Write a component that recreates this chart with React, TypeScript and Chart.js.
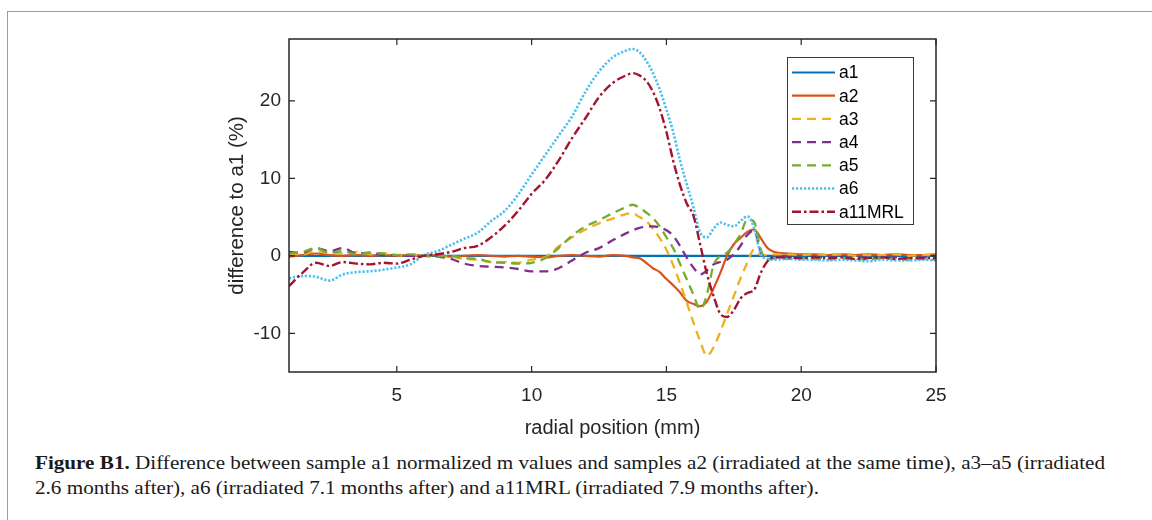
import React, { useEffect, useLayoutEffect, useRef } from "react";
import { Chart, registerables } from "chart.js";

Chart.register(...registerables);

// ---------- data ----------
const xPos = [
  1, 1.5, 2, 2.5, 3, 3.5, 4, 4.5, 5, 5.5, 6, 6.5, 7, 7.5, 8, 8.5, 9,
  9.5, 10, 10.5, 11, 11.5, 12, 12.5, 13, 13.5,
  13.75, 14, 14.25, 14.5, 14.75, 15, 15.25, 15.5, 15.75, 16, 16.25, 16.5, 16.75,
  17, 17.25, 17.5, 17.75, 18, 18.25, 18.5, 18.75, 19,
  19.5, 20, 20.5, 21, 21.5, 22, 22.5, 23, 23.5, 24, 24.5, 25,
];

const a1X = [1, 25];
const a1 = [0, 0];

const a2 = [
  -0.1, 0.1, 0.3, 0.1, 0.0, 0.1, 0.0, 0.1, 0.0, 0.1, 0.0, 0.1, -0.1, 0.0, 0.1, 0.0, -0.1,
  0.0, -0.1, -0.2, 0.0, 0.1, 0.0, -0.1, 0.1, 0.0,
  -0.2, -0.3, -0.9, -1.6, -2.1, -3.0, -3.8, -4.7, -5.8, -6.2, -6.5, -5.9, -4.2,
  -2.2, 0.0, 1.5, 2.3, 3.1, 3.4, 2.3, 1.0, 0.5,
  0.3, 0.2, 0.2, 0.1, 0.2, 0.1, 0.2, 0.1, 0.2, 0.1, 0.1, 0.2,
];

const a3 = [
  0.3, 0.2, 0.6, 0.4, 0.3, 0.5, 0.2, 0.3, 0.1, 0.0, 0.1, 0.0, -0.1, -0.4, -0.5, -0.8, -0.8,
  -0.9, -0.5, -0.2, 1.2, 2.4, 3.4, 4.2, 4.8, 5.4,
  5.5, 5.0, 4.5, 3.5, 2.3, 0.8, -1.2, -3.5, -6.0, -8.6, -11.0, -12.9, -11.8,
  -9.8, -7.5, -5.2, -2.9, -0.9, 0.8, 0.1, 0.1, 0.2,
  0.2, 0.1, 0.2, 0.1, 0.2, 0.0, 0.1, 0.1, 0.2, 0.0, 0.1, 0.1,
];

const a4 = [
  0.5, 0.4, 1.0, 0.6, 1.0, 0.3, 0.4, 0.1, 0.1, 0.0, 0.0, -0.1, -0.4, -1.0, -1.3, -1.4, -1.5,
  -1.7, -2.0, -2.0, -1.6, -0.6, 0.4, 1.0, 2.0, 2.9,
  3.3, 3.6, 3.8, 3.8, 3.7, 3.3, 2.6, 1.3, -0.2, -1.5, -2.4, -1.9, -1.1,
  -0.8, -0.5, 0.2, 1.3, 2.7, 3.3, 0.5, -0.4, -0.3,
  -0.2, -0.3, -0.2, -0.2, -0.3, -0.2, -0.2, -0.3, -0.2, -0.3, -0.2, -0.2,
];

const a5 = [
  0.3, 0.5, 1.0, 0.4, 0.6, 0.2, 0.4, 0.3, 0.1, 0.2, 0.0, -0.1, 0.0, -0.3, -0.4, -0.8, -0.9,
  -1.0, -0.9, -0.3, 1.0, 2.6, 3.8, 4.6, 5.5, 6.3,
  6.6, 6.2, 5.6, 4.9, 3.8, 2.4, 1.0, -1.0, -3.0, -5.0, -6.9, -5.0, -1.2,
  0.0, 0.4, 1.5, 2.8, 4.7, 4.4, 0.8, -0.5, -0.3,
  -0.4, -0.3, -0.4, -0.5, -0.3, -0.4, -0.5, -0.3, -0.4, -0.5, -0.4, -0.5,
];

const a6 = [
  -2.9, -2.6, -2.7, -3.2, -2.4, -2.1, -2.0, -1.8, -1.5, -1.1, 0.1, 0.6, 1.4, 2.2, 3.0, 4.5, 5.8,
  7.9, 10.5, 13.0, 15.5, 18.0, 21.2, 23.8, 25.6, 26.5,
  26.7, 26.3, 25.2, 23.6, 21.5, 18.9, 16.0, 12.4, 9.3, 6.3, 3.0, 2.4, 3.5,
  4.3, 4.0, 3.8, 4.5, 5.1, 3.6, 0.3, -0.4, -0.5,
  -0.4, -0.5, -0.5, -0.6, -0.5, -0.6, -0.7, -0.5, -0.6, -0.6, -0.5, -0.6,
];

const a11MRL = [
  -3.9, -2.2, -0.9, -1.3, -0.8, -1.0, -1.1, -0.9, -1.0, -0.5, 0.0, 0.2, 0.5, 1.0, 1.3, 2.4, 3.9,
  5.8, 8.0, 9.8, 12.3, 15.2, 17.8, 20.5, 22.3, 23.3,
  23.6, 23.3, 22.6, 21.2, 19.0, 16.0, 12.3, 9.2, 6.8, 5.2, 1.5, -2.3, -5.2,
  -7.5, -7.9, -7.0, -5.5, -4.8, -4.4, -2.2, -0.7, -0.2,
  -0.2, -0.3, -0.2, -0.3, -0.2, -0.4, -0.3, -0.2, -0.4, -0.3, -0.3, -0.3,
];

const seriesNames = ["a1", "a2", "a3", "a4", "a5", "a6", "a11MRL"];
const xTickValues = [5, 10, 15, 20, 25];
const yTickValues = [-10, 0, 10, 20];
const xRange = [1, 25];
const yRange = [-15, 28];
const xTitle = "radial position (mm)";
const yTitle = "difference to a1 (%)";
const captionBold = "Figure B1.";
const captionRest1 =
  " Difference between sample a1 normalized m values and samples a2 (irradiated at the same time), a3\u2013a5 (irradiated";
const captionLine2 =
  "2.6 months after), a6 (irradiated 7.1 months after) and a11MRL (irradiated 7.9 months after).";

// ---------- styles ----------
const colors = ["#0072BD", "#D95319", "#EDB120", "#7E2F8E", "#77AC30", "#4DBEEE", "#A2142F"];
const dashes: number[][] = [[], [], [9, 6], [9, 6], [9, 6], [2.2, 1.8], [9, 3, 2.5, 3]];
const widths = [2.2, 2.2, 2.3, 2.3, 2.3, 2.6, 2.4];
const SANS = "'Liberation Sans', Arial, Helvetica, sans-serif";
const AXIS_COLOR = "#262626";

const toPoints = (xs: number[], ys: number[]) => xs.map((x, i) => ({ x, y: ys[i] }));

const framePlugin = {
  id: "frameAndLegend",
  afterDatasetsDraw(chart: any) {
    const { ctx, chartArea: a, scales } = chart;
    ctx.save();
    // box
    ctx.strokeStyle = AXIS_COLOR;
    ctx.lineWidth = 1.5;
    ctx.strokeRect(a.left, a.top, a.right - a.left, a.bottom - a.top);
    // inward ticks on all sides
    ctx.lineWidth = 1.2;
    ctx.beginPath();
    const tl = 6;
    scales.x.ticks.forEach((t: any) => {
      const px = scales.x.getPixelForValue(t.value);
      ctx.moveTo(px, a.bottom);
      ctx.lineTo(px, a.bottom - tl);
      ctx.moveTo(px, a.top);
      ctx.lineTo(px, a.top + tl);
    });
    scales.y.ticks.forEach((t: any) => {
      const py = scales.y.getPixelForValue(t.value);
      ctx.moveTo(a.left, py);
      ctx.lineTo(a.left + tl, py);
      ctx.moveTo(a.right, py);
      ctx.lineTo(a.right - tl, py);
    });
    ctx.stroke();

    // legend box (top-right inside axes)
    const ds = chart.data.datasets;
    const bx = 787.5, by = 57.5, bw = 126, bh = 167;
    ctx.fillStyle = "#ffffff";
    ctx.fillRect(bx, by, bw, bh);
    ctx.strokeStyle = "#3a3a3a";
    ctx.lineWidth = 1;
    ctx.strokeRect(bx, by, bw, bh);
    ctx.font = `17.5px ${SANS}`;
    ctx.textBaseline = "middle";
    ctx.textAlign = "left";
    ds.forEach((d: any, i: number) => {
      const y = 72.5 + i * 23.2;
      ctx.beginPath();
      ctx.strokeStyle = d.borderColor;
      ctx.lineWidth = d.borderWidth;
      ctx.setLineDash(d.borderDash || []);
      ctx.moveTo(792, y);
      ctx.lineTo(835, y);
      ctx.stroke();
      ctx.setLineDash([]);
      ctx.fillStyle = "#000000";
      ctx.fillText(d.label, 839, y + 1);
    });
    ctx.restore();
  },
};

export default function App() {
  const canvasRef = useRef<HTMLCanvasElement | null>(null);
  const line1Ref = useRef<HTMLDivElement | null>(null);
  const line2Ref = useRef<HTMLDivElement | null>(null);

  useLayoutEffect(() => {
    const l1 = line1Ref.current;
    const l2 = line2Ref.current;
    if (!l1 || !l2) return;
    const w = l1.offsetWidth;
    const s = w > 0 ? 1070 / w : 1;
    l1.style.transform = `scaleX(${s})`;
    l2.style.transform = `scaleX(${s})`;
  }, []);

  useEffect(() => {
    const canvas = canvasRef.current;
    if (!canvas) return;
    const ys = [a1, a2, a3, a4, a5, a6, a11MRL];
    const datasets = seriesNames.map((name, i) => ({
      label: name,
      data: i === 0 ? toPoints(a1X, a1) : toPoints(xPos, ys[i]),
      borderColor: colors[i],
      backgroundColor: colors[i],
      borderWidth: widths[i],
      borderDash: dashes[i],
      borderCapStyle: "butt" as const,
      borderJoinStyle: "round" as const,
      pointRadius: 0,
      pointHoverRadius: 0,
      fill: false,
      tension: 0,
      cubicInterpolationMode: "monotone" as const,
      order: seriesNames.length - i,
    }));

    const chart = new Chart(canvas, {
      type: "line",
      data: { datasets },
      options: {
        animation: false,
        responsive: false,
        devicePixelRatio: 1,
        events: [],
        layout: { padding: { left: 225, top: 39, right: 216, bottom: 10 } },
        plugins: {
          legend: { display: false },
          tooltip: { enabled: false },
        },
        scales: {
          x: {
            type: "linear",
            min: xRange[0],
            max: xRange[1],
            grid: { display: false, drawTicks: false },
            border: { display: false },
            afterBuildTicks: (s: any) => {
              s.ticks = xTickValues.map((v) => ({ value: v }));
            },
            afterFit: (s: any) => {
              s.height = 68;
            },
            ticks: {
              padding: 12,
              maxRotation: 0,
              autoSkip: false,
              color: AXIS_COLOR,
              font: { family: SANS, size: 19 },
              callback: (v: any) => String(v),
            },
            title: {
              display: true,
              text: xTitle,
              color: AXIS_COLOR,
              padding: { top: 0, bottom: 0 },
              font: { family: SANS, size: 20 },
            },
          },
          y: {
            type: "linear",
            min: yRange[0],
            max: yRange[1],
            grid: { display: false, drawTicks: false },
            border: { display: false },
            afterBuildTicks: (s: any) => {
              s.ticks = yTickValues.map((v) => ({ value: v }));
            },
            afterFit: (s: any) => {
              s.width = 64;
            },
            ticks: {
              padding: 8,
              autoSkip: false,
              color: AXIS_COLOR,
              font: { family: SANS, size: 19 },
              callback: (v: any) => String(v),
            },
            title: {
              display: true,
              text: yTitle,
              color: AXIS_COLOR,
              padding: { top: 0, bottom: 0 },
              font: { family: SANS, size: 20.5 },
            },
          },
        },
      },
      plugins: [framePlugin],
    });
    return () => chart.destroy();
  }, []);

  const captionStyle: React.CSSProperties = {
    position: "absolute",
    left: 35,
    fontFamily: "'Liberation Serif', 'Times New Roman', serif",
    fontSize: 18,
    lineHeight: "24px",
    color: "#1a1a1a",
    whiteSpace: "nowrap",
    transformOrigin: "0 0",
  };

  return (
    <div
      style={{
        position: "absolute",
        left: 0,
        top: 0,
        width: 1152,
        height: 520,
        overflow: "hidden",
        background: "#ffffff",
      }}
    >
      <div
        style={{
          position: "absolute",
          left: 7,
          top: 11,
          width: 1300,
          height: 700,
          borderLeft: "1.5px solid #9c9c9c",
          borderTop: "1.5px solid #9c9c9c",
        }}
      />
      <canvas
        ref={canvasRef}
        width={1152}
        height={450}
        style={{ position: "absolute", left: 0, top: 0, width: 1152, height: 450 }}
      />
      <div ref={line1Ref} style={{ ...captionStyle, top: 451 }}>
        <b>{captionBold}</b>
        {captionRest1}
      </div>
      <div ref={line2Ref} style={{ ...captionStyle, top: 476 }}>
        {captionLine2}
      </div>
    </div>
  );
}
